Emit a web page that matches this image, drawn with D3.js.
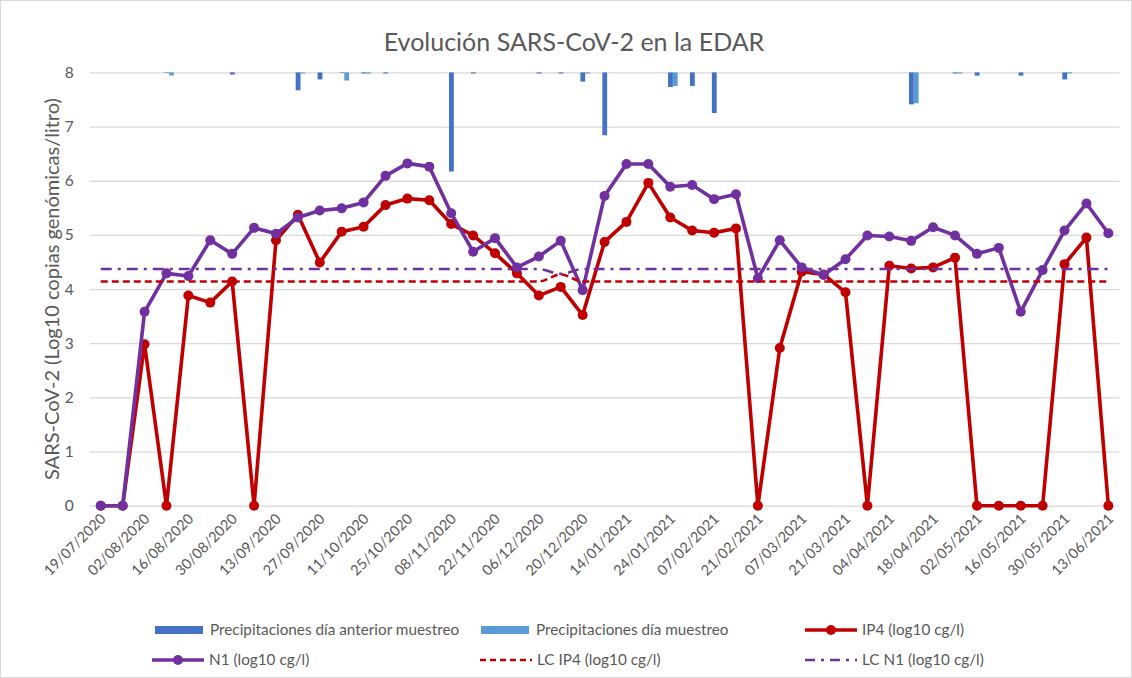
<!DOCTYPE html>
<html><head><meta charset="utf-8">
<script src="https://cdn.jsdelivr.net/npm/d3@7"></script>
<style>
html,body{margin:0;padding:0;background:#fff;}
svg{display:block;}
text{font-family:Lato,"Open Sans",sans-serif;fill:#595959;}
</style></head>
<body>
<svg id="c" width="1132" height="678"></svg>
<script>
// ---- data ----
const categories = [
 "19/07/2020","26/07/2020","02/08/2020","09/08/2020","16/08/2020","23/08/2020","30/08/2020","06/09/2020",
 "13/09/2020","20/09/2020","27/09/2020","04/10/2020","11/10/2020","18/10/2020","25/10/2020","01/11/2020",
 "08/11/2020","15/11/2020","22/11/2020","29/11/2020","06/12/2020","13/12/2020","20/12/2020","07/01/2021",
 "14/01/2021","19/01/2021","24/01/2021","31/01/2021","07/02/2021","14/02/2021","21/02/2021","28/02/2021",
 "07/03/2021","14/03/2021","21/03/2021","28/03/2021","04/04/2021","11/04/2021","18/04/2021","25/04/2021",
 "02/05/2021","09/05/2021","16/05/2021","23/05/2021","30/05/2021","06/06/2021","13/06/2021"];
const ip4 = [0,0,2.98,0,3.88,3.75,4.14,0,4.90,5.37,4.49,5.06,5.15,5.55,5.67,5.64,5.20,4.99,4.66,4.29,3.88,4.04,3.52,4.87,
 5.24,5.96,5.32,5.08,5.04,5.12,0,2.91,4.32,4.27,3.94,0,4.43,4.38,4.40,4.58,0,0,0,0,4.46,4.95,0];
const n1 = [0,0,3.58,4.29,4.24,4.90,4.65,5.13,5.02,5.32,5.45,5.49,5.60,6.09,6.32,6.26,5.40,4.69,4.94,4.40,4.60,4.89,3.98,5.72,
 6.31,6.31,5.89,5.92,5.66,5.75,4.20,4.90,4.40,4.26,4.55,4.99,4.97,4.89,5.14,4.99,4.65,4.76,3.58,4.35,5.08,5.58,5.03];
const lcIp4 = [4.14,4.14,4.14,4.14,4.14,4.14,4.14,4.14,4.14,4.14,4.14,4.14,4.14,4.14,4.14,4.14,4.14,4.14,4.14,4.14,4.14,4.27,4.14,4.14,
 4.14,4.14,4.14,4.14,4.14,4.14,4.14,4.14,4.14,4.14,4.14,4.14,4.14,4.14,4.14,4.14,4.14,4.14,4.14,4.14,4.14,4.14,4.14];
const lcN1 = [4.37,4.37,4.37,4.37,4.37,4.37,4.37,4.37,4.37,4.37,4.37,4.37,4.37,4.37,4.37,4.37,4.37,4.37,4.37,4.37,4.37,4.28,4.37,4.37,
 4.37,4.37,4.37,4.37,4.37,4.37,4.37,4.37,4.37,4.37,4.37,4.37,4.37,4.37,4.37,4.37,4.37,4.37,4.37,4.37,4.37,4.37,4.37];
// precipitation (mm), secondary inverted axis
const precPrev = [0,0,0,0.1,0,0,0.4,0,0,3.3,1.3,0.1,0.2,0.2,0,0,18.3,0.2,0,0,0.2,0.2,1.7,11.6,
 0,0,2.7,2.5,7.5,0,0,0,0,0,0,0,0,5.9,0,0.2,0.6,0,0.6,0,1.3,0,0];
const precDay = [0,0,0,0.55,0,0,0,0,0,0.2,0,1.5,0.2,0,0,0,0,0,0,0,0,0,0.2,0,
 0,0,2.5,0,0,0,0,0,0,0,0,0,0,5.7,0,0.2,0,0,0,0,0.2,0,0];
const yTicks = [0,1,2,3,4,5,6,7,8];
const labels = {
  title: "Evolución SARS-CoV-2 en la EDAR",
  yAxis: "SARS-CoV-2 (Log10 copias genómicas/litro)",
  precPrev: "Precipitaciones día anterior muestreo",
  precDay: "Precipitaciones día muestreo",
  ip4: "IP4 (log10 cg/l)",
  n1: "N1 (log10 cg/l)",
  lcIp4: "LC IP4 (log10 cg/l)",
  lcN1: "LC N1 (log10 cg/l)"
};

// ---- layout ----
const svg = d3.select("#c");
const L = 89.8, R = 1119.3, T = 72.4, B = 505.7;
const C = {red:"#C00000", purple:"#7030A0", dark:"#4472C4", light:"#5B9BD5", grid:"#D9D9D9"};

svg.append("rect").attr("x",0.5).attr("y",0.5).attr("width",1131).attr("height",677)
  .attr("fill","#fff").attr("stroke","#D9D9D9");

const x = d3.scaleBand().domain(categories).range([L,R]);
const cx = d => x(d) + x.bandwidth()/2;
const y = d3.scaleLinear().domain([0,8]).range([B,T]);
const y2 = d3.scaleLinear().domain([0,80]).range([T,B]); // inverted secondary

// gridlines
const yAxis = d3.axisLeft(y).tickValues(yTicks).tickSize(-(R-L)).tickPadding(15).tickFormat(d3.format("d"));
const gy = svg.append("g").attr("transform",`translate(${L},0)`).call(yAxis);
gy.select(".domain").remove();
gy.selectAll(".tick line").attr("stroke",C.grid).attr("stroke-width",1.3);
gy.selectAll(".tick text").attr("font-size",15.5).attr("fill","#595959").attr("x",-16);

// x axis labels
const xAxis = d3.axisBottom(x).tickValues(categories.filter((d,i)=>i%2===0)).tickSize(0).tickPadding(0);
const gx = svg.append("g").attr("transform",`translate(0,${B})`).call(xAxis);
gx.select(".domain").remove();
gx.selectAll(".tick text").attr("font-size",14.5).attr("fill","#595959")
  .attr("text-anchor","end").attr("dy",0).attr("y",0)
  .attr("transform","translate(6,14) rotate(-45)");

// precipitation bars (hang from top)
const bw = 4.8;
svg.append("g").selectAll("rect").data(precPrev.map((v,i)=>({v,c:categories[i]})).filter(d=>d.v>0))
  .join("rect").attr("x",d=>cx(d.c)-2.2).attr("width",bw).attr("y",y2(0))
  .attr("height",d=>y2(d.v)-y2(0)).attr("fill",C.dark);
svg.append("g").selectAll("rect").data(precDay.map((v,i)=>({v,c:categories[i]})).filter(d=>d.v>0))
  .join("rect").attr("x",d=>cx(d.c)+2.6).attr("width",bw).attr("y",y2(0))
  .attr("height",d=>y2(d.v)-y2(0)).attr("fill",C.light);

// lines
function series(vals,color){
  const g = svg.append("g");
  const line = d3.line().x((d,i)=>cx(categories[i])).y(d=>y(d));
  g.append("path").datum(vals).attr("d",line).attr("fill","none").attr("stroke",color)
    .attr("stroke-width",3.6).attr("stroke-linejoin","round");
  g.selectAll("circle").data(vals).join("circle").attr("cx",(d,i)=>cx(categories[i])).attr("cy",d=>y(d))
    .attr("r",5).attr("fill",color);
}
series(ip4,C.red);
series(n1,C.purple);

const lcLine = d3.line().x((d,i)=>cx(categories[i])).y(d=>y(d)).curve(d3.curveMonotoneX);
svg.append("path").datum(lcIp4).attr("d",lcLine).attr("fill","none").attr("stroke",C.red)
  .attr("stroke-width",2.6).attr("stroke-dasharray","7,4");
svg.append("path").datum(lcN1).attr("d",lcLine).attr("fill","none").attr("stroke",C.purple)
  .attr("stroke-width",2.6).attr("stroke-dasharray","11,6,3,6");

// title
svg.append("text").attr("x",574).attr("y",51).attr("text-anchor","middle").attr("font-size",25).text(labels.title);
// y axis title
svg.append("text").attr("transform",`translate(59,${(T+B)/2}) rotate(-90)`).attr("text-anchor","middle")
  .attr("font-size",20).text(labels.yAxis);

// legend
const lg = svg.append("g");
function legRect(xp,yp,color,txt){
  lg.append("rect").attr("x",xp).attr("y",yp-4).attr("width",48).attr("height",8).attr("fill",color);
  lg.append("text").attr("x",xp+55).attr("y",yp).attr("dy","0.35em").attr("font-size",15.3).text(txt);
}
function legLine(xp,yp,color,txt,dash,marker){
  lg.append("line").attr("x1",xp).attr("x2",xp+52).attr("y1",yp).attr("y2",yp).attr("stroke",color)
    .attr("stroke-width",marker?3.6:2.6).attr("stroke-dasharray",dash||null);
  if(marker) lg.append("circle").attr("cx",xp+26).attr("cy",yp).attr("r",5).attr("fill",color);
  lg.append("text").attr("x",xp+57).attr("y",yp).attr("dy","0.35em").attr("font-size",15.3).text(txt);
}
legRect(155,630,C.dark,labels.precPrev);
legRect(481,630,C.light,labels.precDay);
legLine(805,630,C.red,labels.ip4,null,true);
legLine(152,660,C.purple,labels.n1,null,true);
legLine(480,660,C.red,labels.lcIp4,"6,4",false);
legLine(805,660,C.purple,labels.lcN1,"10,6,3,6",false);
</script>
</body></html>
